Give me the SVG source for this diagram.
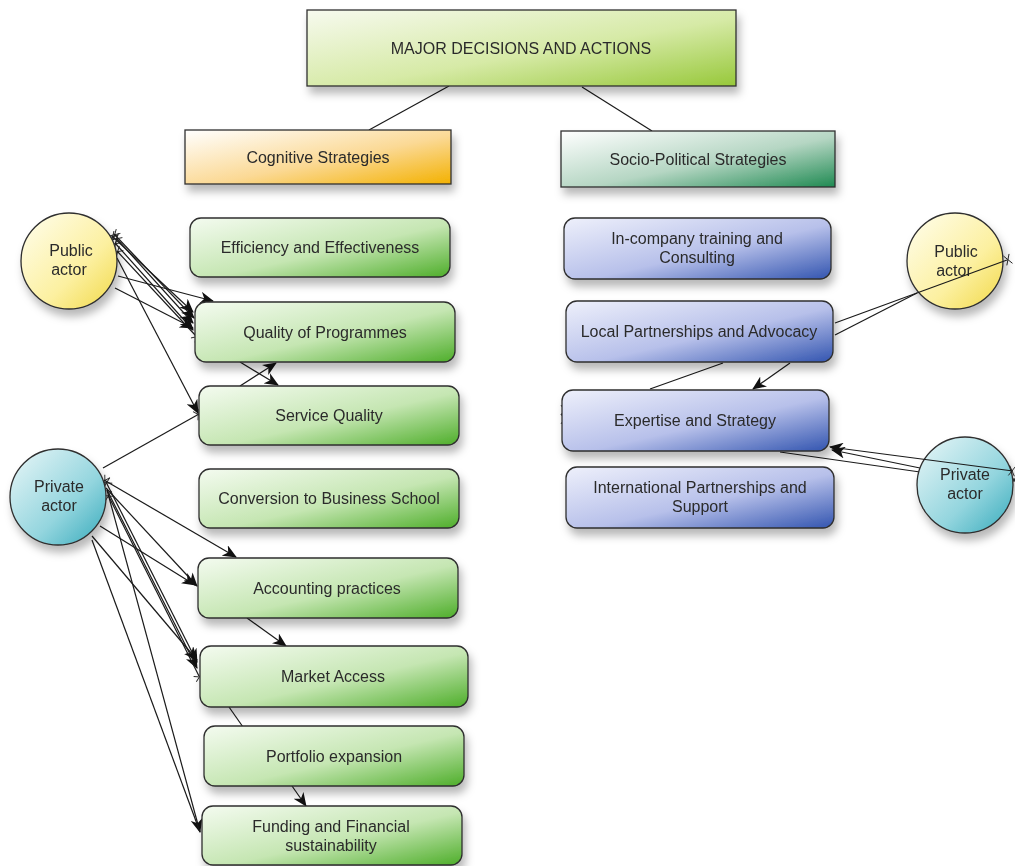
<svg xmlns="http://www.w3.org/2000/svg" width="1015" height="866" viewBox="0 0 1015 866">
<style>
text{font-family:"Liberation Sans",Arial,sans-serif;font-size:16px;fill:#2b2b2b;text-anchor:middle}
.b{stroke:#2f2f2f;stroke-width:1.3}
.c{stroke:#1a1a1a;stroke-width:1.2;fill:none}
.a{marker-end:url(#arr)}
.x{marker-start:url(#xm)}
.xe{marker-end:url(#xm)}
.n{filter:url(#sh)}
</style>
<defs>
<filter id="sh" x="-20%" y="-30%" width="140%" height="170%">
<feDropShadow dx="3" dy="7" stdDeviation="4" flood-color="#000" flood-opacity="0.28"/>
</filter>
<linearGradient id="gTop" x1="0" y1="0" x2="1" y2="1"><stop offset="0" stop-color="#f7faef"/><stop offset="0.55" stop-color="#d6eaa6"/><stop offset="1" stop-color="#97c83a"/></linearGradient>
<linearGradient id="gOr" x1="0" y1="0" x2="1" y2="1"><stop offset="0" stop-color="#ffffff"/><stop offset="0.55" stop-color="#fbd995"/><stop offset="1" stop-color="#f3b100"/></linearGradient>
<linearGradient id="gDg" x1="0" y1="0" x2="1" y2="1"><stop offset="0" stop-color="#ffffff"/><stop offset="0.55" stop-color="#b5d6c3"/><stop offset="1" stop-color="#1f8a52"/></linearGradient>
<linearGradient id="gG" x1="0" y1="0" x2="1" y2="1"><stop offset="0" stop-color="#f4fbf0"/><stop offset="0.55" stop-color="#c5e6b2"/><stop offset="1" stop-color="#4eae2a"/></linearGradient>
<linearGradient id="gB" x1="0" y1="0" x2="1" y2="1"><stop offset="0" stop-color="#eef0fb"/><stop offset="0.55" stop-color="#b7c0ea"/><stop offset="1" stop-color="#3355b0"/></linearGradient>
<linearGradient id="gY" x1="0" y1="0" x2="1" y2="1"><stop offset="0" stop-color="#fffeef"/><stop offset="0.6" stop-color="#fcf0a0"/><stop offset="1" stop-color="#f1d846"/></linearGradient>
<linearGradient id="gC" x1="0" y1="0" x2="1" y2="1"><stop offset="0" stop-color="#eaf7f8"/><stop offset="0.6" stop-color="#93d5de"/><stop offset="1" stop-color="#35aabb"/></linearGradient>
<marker id="arr" viewBox="0 0 14 12" refX="13" refY="6" markerWidth="14" markerHeight="12" markerUnits="userSpaceOnUse" orient="auto"><path d="M0,0 L14,6 L0,12 L4,6 Z" fill="#111"/></marker>
<marker id="xm" viewBox="-6 -6 12 12" refX="0" refY="0" markerWidth="12" markerHeight="12" markerUnits="userSpaceOnUse" orient="auto"><path d="M-2,-5 L4,5 M-2,5 L4,-5" stroke="#222" stroke-width="0.9" fill="none"/></marker>
</defs>

<g id="connectors">
<line class="c" x1="449" y1="86" x2="369" y2="130"/>
<line class="c" x1="582" y1="87" x2="652" y2="131"/>
<line class="c x a" x1="112" y1="236" x2="193" y2="312"/>
<line class="c x a" x1="114" y1="234" x2="194" y2="318"/>
<line class="c x a" x1="116" y1="238" x2="193" y2="323"/>
<line class="c x a" x1="115" y1="243" x2="193" y2="330"/>
<line class="c x xe" x1="117" y1="251" x2="196" y2="336"/>
<line class="c a" x1="118" y1="276" x2="213" y2="301"/>
<line class="c a" x1="115" y1="288" x2="193" y2="328"/>
<line class="c a" x1="117" y1="258" x2="198" y2="413"/>
<line class="c a" x1="240" y1="362" x2="278" y2="385"/>
<line class="c a" x1="240" y1="386" x2="276" y2="363"/>
<line class="c a" x1="247" y1="618" x2="286" y2="646"/>
<line class="c" x1="229" y1="707" x2="243" y2="727"/>
<line class="c a" x1="292" y1="786" x2="306" y2="806"/>
<line class="c x" x1="199" y1="414" x2="103" y2="468"/>
<line class="c x a" x1="104" y1="480" x2="236" y2="557"/>
<line class="c a" x1="106" y1="488" x2="197" y2="586"/>
<line class="c a" x1="100" y1="526" x2="195" y2="585"/>
<line class="c x a" x1="106" y1="482" x2="197" y2="662"/>
<line class="c a" x1="107" y1="490" x2="197" y2="668"/>
<line class="c x xe" x1="108" y1="495" x2="199" y2="676"/>
<line class="c a" x1="92" y1="536" x2="197" y2="660"/>
<line class="c a" x1="107" y1="490" x2="200" y2="832"/>
<line class="c" x1="92" y1="540" x2="200" y2="832"/>
<line class="c" x1="835" y1="335" x2="917" y2="293"/>
<line class="c" x1="723" y1="363" x2="650" y2="389"/>
<line class="c a" x1="790" y1="363" x2="753" y2="389"/>
<line class="c x" x1="563" y1="410" x2="600" y2="410" stroke="none"/>
<line class="c x" x1="563" y1="419" x2="600" y2="419" stroke="none"/>
<line class="c a" x1="920" y1="468" x2="832" y2="450"/>
<line class="c" x1="780" y1="452" x2="920" y2="472"/>
<line class="c x" x1="1013" y1="480" x2="1030" y2="480" stroke="none"/>
</g>

<g id="n-top" class="n"><rect class="b" x="307" y="10" width="429" height="76" fill="url(#gTop)"/><text x="521" y="54">MAJOR DECISIONS AND ACTIONS</text></g>
<g id="n-cog" class="n"><rect class="b" x="185" y="130" width="266" height="54" fill="url(#gOr)"/><text x="318" y="163">Cognitive Strategies</text></g>
<g id="n-soc" class="n"><rect class="b" x="561" y="131" width="274" height="56" fill="url(#gDg)"/><text x="698" y="165">Socio-Political Strategies</text></g>

<g id="n-eff" class="n"><rect class="b" x="190" y="218" width="260" height="59" rx="11" fill="url(#gG)"/><text x="320" y="253">Efficiency and Effectiveness</text></g>
<g id="n-qua" class="n"><rect class="b" x="195" y="302" width="260" height="60" rx="11" fill="url(#gG)"/><text x="325" y="338">Quality of Programmes</text></g>
<g id="n-ser" class="n"><rect class="b" x="199" y="386" width="260" height="59" rx="11" fill="url(#gG)"/><text x="329" y="421">Service Quality</text></g>
<g id="n-con" class="n"><rect class="b" x="199" y="469" width="260" height="59" rx="11" fill="url(#gG)"/><text x="329" y="504">Conversion to Business School</text></g>
<g id="n-acc" class="n"><rect class="b" x="198" y="558" width="260" height="60" rx="11" fill="url(#gG)"/><text x="327" y="594">Accounting practices</text></g>
<g id="n-mar" class="n"><rect class="b" x="200" y="646" width="268" height="61" rx="11" fill="url(#gG)"/><text x="333" y="682">Market Access</text></g>
<g id="n-por" class="n"><rect class="b" x="204" y="726" width="260" height="60" rx="11" fill="url(#gG)"/><text x="334" y="762">Portfolio expansion</text></g>
<g id="n-fun" class="n"><rect class="b" x="202" y="806" width="260" height="59" rx="11" fill="url(#gG)"/><text x="331" y="832">Funding and Financial</text><text x="331" y="851">sustainability</text></g>

<g id="n-inc" class="n"><rect class="b" x="564" y="218" width="267" height="61" rx="11" fill="url(#gB)"/><text x="697" y="244">In-company training and</text><text x="697" y="263">Consulting</text></g>
<g id="n-loc" class="n"><rect class="b" x="566" y="301" width="267" height="61" rx="11" fill="url(#gB)"/><text x="699" y="337">Local Partnerships and Advocacy</text></g>
<g id="n-exp" class="n"><rect class="b" x="562" y="390" width="267" height="61" rx="11" fill="url(#gB)"/><text x="695" y="426">Expertise and Strategy</text></g>
<g id="n-int" class="n"><rect class="b" x="566" y="467" width="268" height="61" rx="11" fill="url(#gB)"/><text x="700" y="493">International  Partnerships and</text><text x="700" y="512">Support</text></g>

<g id="n-pub-l" class="n"><circle class="b" cx="69" cy="261" r="48" fill="url(#gY)"/><text x="71" y="256">Public</text><text x="69" y="275">actor</text></g>
<g id="n-pri-l" class="n"><circle class="b" cx="58" cy="497" r="48" fill="url(#gC)"/><text x="59" y="492">Private</text><text x="59" y="511">actor</text></g>
<g id="n-pub-r" class="n"><circle class="b" cx="955" cy="261" r="48" fill="url(#gY)"/><text x="956" y="257">Public</text><text x="954" y="276">actor</text></g>
<g id="n-pri-r" class="n"><circle class="b" cx="965" cy="485" r="48" fill="url(#gC)"/><text x="965" y="480">Private</text><text x="965" y="499">actor</text></g>

<g id="connectors-over">
<line class="c xe" x1="835" y1="323" x2="1007" y2="260"/>
<line class="c x a" x1="1013" y1="471" x2="830" y2="447"/>
</g>
</svg>
